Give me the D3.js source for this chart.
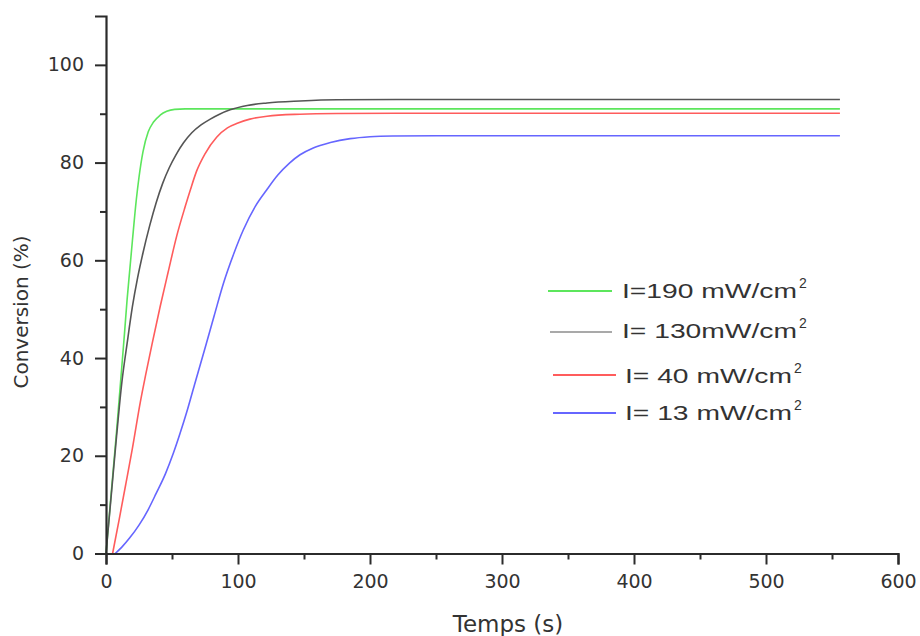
<!DOCTYPE html>
<html>
<head>
<meta charset="utf-8">
<script src="https://cdn.jsdelivr.net/npm/d3@7"></script>
<style>
  html, body { margin: 0; padding: 0; background: #fff; }
  svg { display: block; }
  text { fill: #333; }
</style>
</head>
<body>
<svg id="chart" width="920" height="636"></svg>
<script>
// ---- data (time in s, conversion in %) ----
const seriesNames = ["I=190 mW/cm", "I= 130mW/cm", "I= 40 mW/cm", "I= 13 mW/cm"];
const seriesColors = ["#5ce65c", "#555555", "#ff5c5c", "#6666ff"];

const green190 = [[0,0],[4,12.5],[8,25],[11,35],[14,45],[16,52],[18,58],[20,64],[23,72.5],[25,77],[28,82.2],[32,86.3],[36,88.3],[41,89.7],[46,90.5],[52,90.9],[60,91],[100,91],[200,91],[300,91],[400,91],[500,91],[556,91]];
const black130 = [[0,0],[4,12],[8,24],[12,35],[16,43],[20,50.5],[24,56.5],[28,61.5],[33,67],[38,71.8],[43,75.8],[48,79],[53,81.6],[58.6,84],[65,86.1],[72,87.7],[79,88.9],[86,89.9],[94,90.8],[107,91.7],[122,92.2],[147,92.6],[175,92.85],[220,92.9],[300,92.9],[556,92.9]];
const red40 = [[5,0],[10,7],[15,14.2],[20,21.5],[26,31],[30,36.5],[35,43],[41,50.5],[47,57.5],[53.6,65],[60,71],[64,74.5],[68.7,78.3],[75,81.8],[83.8,85.2],[92,87.1],[100,88.1],[109,88.9],[122,89.5],[147,89.9],[175,90.05],[220,90.1],[300,90.1],[556,90.1]];
const blue13 = [[7,0],[12,1.3],[18,3.2],[25,5.8],[32,9],[38,12.3],[45,16.3],[51,20.5],[56,24.5],[61,28.8],[67,34.5],[75,42],[82,48.7],[89,55.3],[97,61.5],[104,66.2],[113,71],[121.7,74.4],[130,77.4],[139,79.9],[147,81.6],[157,83],[170,84.1],[185,84.9],[200,85.3],[217,85.45],[250,85.5],[556,85.5]];
const seriesData = [green190, black130, red40, blue13];

const xTicks = [0, 100, 200, 300, 400, 500, 600];
const xMinor = [50, 150, 250, 350, 450, 550];
const yTicks = [0, 20, 40, 60, 80, 100];
const yMinor = [10, 30, 50, 70, 90];
const xTitle = "Temps (s)";
const yTitle = "Conversion (%)";

// ---- drawing ----
const svg = d3.select("#chart");
const x = d3.scaleLinear().domain([0, 600]).range([106, 898]);
const y = d3.scaleLinear().domain([0, 110]).range([553.5, 16]);

const axisColor = "#2b2b2b";
const tickFont = "'DejaVu Sans', Verdana, sans-serif";
const legFont = "'Liberation Sans', Arial, sans-serif";

// curves
const line = d3.line().x(d => x(d[0])).y(d => y(d[1])).curve(d3.curveMonotoneX);
svg.append("g").selectAll("path").data(seriesData).join("path")
  .attr("d", line)
  .attr("fill", "none")
  .attr("stroke", (d, i) => seriesColors[i])
  .attr("stroke-width", 1.6);

// x axis
const gx = svg.append("g").attr("transform", `translate(0,${y(0)})`);
gx.call(d3.axisBottom(x).tickValues(xTicks).tickSize(11).tickPadding(10).tickFormat(d3.format("d")));
gx.append("g").call(d3.axisBottom(x).tickValues(xMinor).tickSize(6).tickFormat(""));
gx.selectAll(".domain").filter((d, i, n) => n[i].parentNode !== gx.node()).remove();
gx.selectAll(".domain").attr("stroke", axisColor).attr("stroke-width", 2.2);
gx.selectAll(".tick line").attr("stroke", axisColor).attr("stroke-width", 2);
gx.selectAll("text").style("font-family", tickFont).style("font-size", "19px").style("fill", "#333");

// y axis
const gy = svg.append("g").attr("transform", `translate(${x(0)},0)`);
gy.call(d3.axisLeft(y).tickValues(yTicks).tickSize(11).tickPadding(11).tickFormat(d3.format("d")));
gy.append("g").call(d3.axisLeft(y).tickValues(yMinor).tickSize(6).tickFormat(""));
gy.selectAll(".domain").filter((d, i, n) => n[i].parentNode !== gy.node()).remove();
gy.selectAll(".domain").attr("stroke", axisColor).attr("stroke-width", 2.2);
gy.selectAll(".tick line").attr("stroke", axisColor).attr("stroke-width", 2);
gy.selectAll("text").style("font-family", tickFont).style("font-size", "19px").style("fill", "#333");

// titles
svg.append("text").attr("x", 508).attr("y", 632).attr("text-anchor", "middle")
  .style("font-family", tickFont).style("font-size", "23px").text(xTitle);
svg.append("text").attr("transform", `translate(28,312) rotate(-90)`).attr("text-anchor", "middle")
  .style("font-family", tickFont).style("font-size", "20px").text(yTitle);

// legend
const legLineY = [291, 332, 375, 413];
const legBase = [298, 338, 383, 420];
const legX0 = [548, 550, 553, 553];
const legX1 = [612, 612, 616, 616];
const legTx = [622, 622, 625, 625];
const legW = [175, 175, 167, 167];
const leg = svg.append("g");
seriesNames.forEach((name, i) => {
  leg.append("line").attr("x1", legX0[i]).attr("x2", legX1[i]).attr("y1", legLineY[i]).attr("y2", legLineY[i])
    .attr("stroke", seriesColors[i]).attr("stroke-width", i === 1 ? 1.2 : 1.8);
  leg.append("text").attr("x", legTx[i]).attr("y", legBase[i])
    .style("font-family", legFont).style("font-size", "21px")
    .attr("textLength", legW[i]).attr("lengthAdjust", "spacingAndGlyphs").text(name);
  leg.append("text").attr("x", legTx[i] + legW[i] + 2).attr("y", legBase[i] - 10)
    .style("font-family", legFont).style("font-size", "14px").text("2");
});
</script>
</body>
</html>
